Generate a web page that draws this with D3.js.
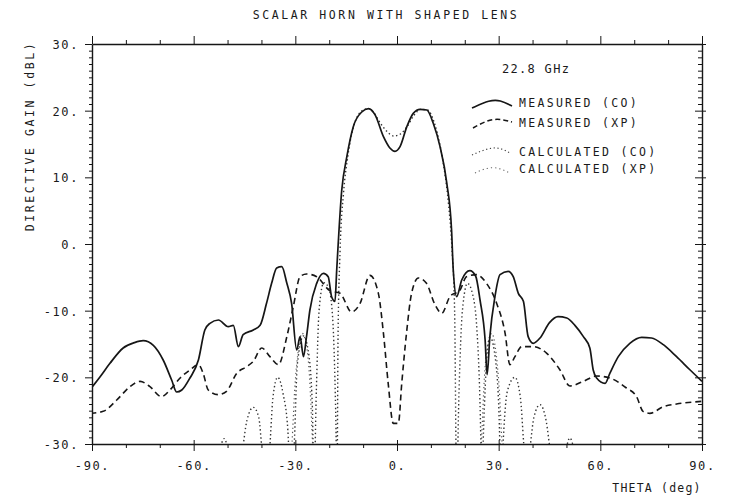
<!DOCTYPE html>
<html>
<head>
<meta charset="utf-8">
<script src="https://cdn.jsdelivr.net/npm/d3@7"></script>
<style>
  body { margin: 0; background: #fff; }
  svg { display: block; }
  text { font-family: "DejaVu Sans Mono", "Liberation Mono", monospace; fill: #1a1a1a; }
</style>
</head>
<body>
<svg id="chart" width="731" height="498"></svg>
<script>
// ---------------- data ----------------
const titleText = "SCALAR HORN WITH SHAPED LENS";
const yLabel = "DIRECTIVE GAIN (dBL)";
const xLabel = "THETA (deg)";
const freqLabel = "22.8 GHz";
const legendLabels = ["MEASURED (CO)", "MEASURED (XP)", "CALCULATED (CO)", "CALCULATED (XP)"];
const xMajorTicks = [-90, -60, -30, 0, 30, 60, 90];
const yMajorTicks = [-30, -20, -10, 0, 10, 20, 30];

// [theta (deg), gain (dBL)]
const measuredCO = [[-90.5,-21.8],[-87.6,-19.9],[-84.7,-17.9],[-80.8,-15.6],[-77.5,-14.8],[-74.9,-14.5],[-71.9,-15.2],[-69,-17.4],[-66.5,-20.4],[-65,-22.2],[-63.5,-21.9],[-61.1,-20.1],[-58.6,-17.4],[-56.7,-12.9],[-55.2,-11.9],[-52.7,-11.4],[-49.8,-12.4],[-48.3,-12.2],[-46.8,-15.4],[-45.4,-13.6],[-42.4,-12.9],[-40.4,-12.2],[-38.5,-8.9],[-37,-5.9],[-35.5,-3.6],[-34,-3.4],[-32.5,-5.9],[-31.1,-8.9],[-29.6,-15.9],[-28.6,-13.9],[-27.6,-16.9],[-26.7,-13.9],[-25.7,-9.9],[-23.7,-5.9],[-21.7,-4.4],[-20.3,-4.9],[-19.3,-7.9],[-18.3,-8.6],[-17.8,-4],[-16.3,8.1],[-14.8,13.1],[-12.9,17.6],[-10.4,19.8],[-8.4,20.3],[-6.5,19.4],[-4,16.1],[-2.1,14.4],[-0.6,13.9],[0.9,14.6],[2.9,17.6],[4.8,19.6],[6.8,20.2],[8.8,20.1],[10.7,18.1],[12.7,14.6],[14.7,9.1],[16.1,2.1],[16.6,-3.9],[17.6,-7.9],[19.1,-5.4],[21.5,-4],[23.2,-4.8],[24.5,-8.4],[26,-14.4],[26.6,-19.6],[27.4,-13.9],[28.9,-7.9],[30.4,-4.6],[32.8,-4.1],[34.3,-4.9],[35.8,-7.4],[37.3,-8.6],[38.7,-13.9],[40.2,-14.9],[42.2,-14.1],[45,-11.8],[47.5,-10.9],[50.1,-11.1],[52.5,-12.2],[55,-13.9],[56.9,-15.6],[57.9,-18.9],[58.9,-20.1],[61.4,-20.9],[62.8,-19.4],[65.3,-16.9],[68.7,-14.9],[72.2,-14],[75.1,-14.1],[78.6,-15.1],[82.5,-16.9],[86.5,-18.9],[90,-20.6]];

const measuredXP = [[-90.5,-25.4],[-86.7,-25.1],[-82.7,-23.4],[-78.8,-21.4],[-75.8,-20.6],[-72.9,-21.4],[-69.5,-22.9],[-67,-21.9],[-64,-20.1],[-61.1,-18.9],[-58.6,-18.1],[-57.2,-19.4],[-55.7,-21.9],[-52.7,-22.6],[-50.3,-22.1],[-47.3,-19.4],[-44.4,-18.4],[-42.4,-17.6],[-39.9,-15.6],[-37.5,-16.9],[-35,-18.1],[-32.5,-13.9],[-30.6,-9.4],[-28.6,-4.9],[-26.7,-4.5],[-23.7,-4.9],[-19.8,-7],[-16.8,-7.4],[-13.4,-10.2],[-10.9,-8.9],[-8,-4.7],[-5.5,-7.4],[-4,-13.4],[-2.6,-20.9],[-1.1,-26.9],[0.4,-26.9],[1.4,-20.9],[2.8,-13.4],[4.3,-7.4],[6.3,-5.1],[8.7,-5.9],[11.2,-9.1],[13.2,-10.4],[15.6,-7.9],[18.6,-6.9],[20.5,-4.9],[23.5,-4.6],[26.4,-5.9],[29.4,-8.9],[31.9,-13.4],[33.3,-18.1],[34.8,-16.9],[36.8,-15.4],[40.2,-15.4],[44.2,-16.4],[48.1,-18.9],[51,-21.3],[55,-20.6],[58.9,-19.8],[62.8,-20.1],[67.7,-21.6],[70.7,-22.9],[72.6,-25.1],[74.6,-25.4],[78.6,-24.4],[82.5,-24],[90,-23.6]];

const calculatedCO = [[-90,-36],[-54,-36],[-52.5,-31.5],[-51,-29.2],[-49.5,-31.5],[-47,-36],[-45.6,-31],[-44.3,-26.5],[-42.4,-24.5],[-40.8,-26],[-39.8,-31],[-38.6,-36],[-37.6,-31],[-36.6,-23],[-35.2,-20],[-33.6,-22.5],[-32.2,-28],[-31.4,-36],[-30.4,-31],[-29.4,-18],[-27.6,-13.8],[-26.2,-16],[-25,-24],[-24.5,-36],[-23.8,-22],[-23,-10],[-21.6,-5.8],[-20.2,-6.5],[-19,-11],[-18.1,-25],[-17.7,-36],[-17.4,-14],[-16.8,-1],[-15.8,7.5],[-14.5,13.2],[-13,17.3],[-11.5,19.3],[-10,20.1],[-8.5,20.3],[-7,19.8],[-5,18.2],[-3,16.9],[-1,16.2],[1,16.5],[3,17.6],[5,19.3],[7,20.2],[9,20.1],[11,18.2],[12.7,14.8],[14,11],[15.2,6],[16.2,-0.5],[17,-10],[17.6,-36],[18.3,-22],[19.3,-10],[20.8,-5.9],[22.3,-7.5],[23.6,-13],[24.6,-26],[25,-36],[25.6,-27],[26.5,-17],[27.5,-14],[28.7,-16],[30,-24],[30.8,-36],[31.4,-29],[32.6,-22],[34.8,-20],[36.4,-23],[37.4,-30],[38.3,-36],[39.4,-30],[40.4,-26],[42.2,-24.1],[44,-26.5],[45.2,-31],[46.5,-36],[49.5,-31.5],[51,-29.1],[52.5,-31.5],[54,-36],[90,-36]];

const calculatedXP = [[-90,-36],[-32,-36],[-31,-30],[-30.2,-22],[-29,-15.5],[-28,-13.4],[-26.8,-15],[-25.8,-20],[-24.9,-30],[-24.2,-36],[24.2,-36],[24.9,-30],[25.8,-20],[26.8,-15],[28,-13.4],[29,-15.5],[30.2,-22],[31,-30],[32,-36],[90,-36]];

// ---------------- layout ----------------
const svg = d3.select("#chart");
const x = d3.scaleLinear().domain([-90, 90]).range([92, 702]);
const y = d3.scaleLinear().domain([-30, 30]).range([444, 44]);
const ink = "#161616";

svg.append("defs").append("clipPath").attr("id", "plotClip")
  .append("rect").attr("x", x(-90)).attr("y", y(30))
  .attr("width", x(90) - x(-90)).attr("height", y(-30) - y(30));

// title
svg.append("text").attr("x", 386).attr("y", 19).attr("text-anchor", "middle")
  .attr("font-size", 11.5).attr("letter-spacing", 2.6).text(titleText);

// axes
const xMinor = d3.range(-90, 91, 10);
const yMinor = d3.range(-30, 31, 1);

const axBottom = svg.append("g").attr("transform", `translate(0,${y(-30)})`)
  .call(d3.axisBottom(x).tickValues(xMinor).tickSize(4).tickSizeOuter(0)
    .tickFormat(d => xMajorTicks.includes(d) ? d + "." : ""));
axBottom.selectAll(".tick line").filter(d => xMajorTicks.includes(d)).attr("y1", -4).attr("y2", 7);
axBottom.selectAll(".tick text").attr("y", 17).attr("font-size", 12).attr("letter-spacing", 1.6)
  .attr("font-family", '"DejaVu Sans Mono", monospace').attr("fill", ink);

const axTop = svg.append("g").attr("transform", `translate(0,${y(30)})`)
  .call(d3.axisTop(x).tickValues(xMinor).tickSize(4).tickSizeOuter(0).tickFormat(""));
axTop.selectAll(".tick line").filter(d => xMajorTicks.includes(d)).attr("y2", -8);

const axLeft = svg.append("g").attr("transform", `translate(${x(-90)},0)`)
  .call(d3.axisLeft(y).tickValues(yMinor).tickSize(3).tickSizeOuter(0)
    .tickFormat(d => yMajorTicks.includes(d) ? d + "." : ""));
axLeft.selectAll(".tick line").filter(d => yMajorTicks.includes(d)).attr("x2", -7);
axLeft.selectAll(".tick text").attr("x", -13).attr("dy", "0.38em").attr("font-size", 12).attr("letter-spacing", 1.6)
  .attr("font-family", '"DejaVu Sans Mono", monospace').attr("fill", ink);

const axRight = svg.append("g").attr("transform", `translate(${x(90)},0)`)
  .call(d3.axisLeft(y).tickValues(yMinor).tickSize(4).tickSizeOuter(0).tickFormat(""));
axRight.selectAll(".tick line").filter(d => yMajorTicks.includes(d)).attr("x1", 4).attr("x2", -7);

svg.selectAll(".domain").attr("stroke", ink).attr("stroke-width", 1.4);
svg.selectAll(".tick line").attr("stroke", ink).attr("stroke-width", 1);

// axis labels
svg.append("text").attr("transform", `translate(34,136) rotate(-90)`).attr("text-anchor", "middle")
  .attr("font-size", 11.5).attr("letter-spacing", 2.6).text(yLabel);
svg.append("text").attr("x", 657).attr("y", 492).attr("text-anchor", "middle")
  .attr("font-size", 11.5).attr("letter-spacing", 1.2).text(xLabel);

// curves
const line = d3.line().x(d => x(d[0])).y(d => y(d[1])).curve(d3.curveMonotoneX);
const plot = svg.append("g").attr("clip-path", "url(#plotClip)");

plot.append("path").datum(calculatedXP).attr("d", line).attr("fill", "none")
  .attr("stroke", "#555").attr("stroke-width", 1.2).attr("stroke-dasharray", "1.2,3");
plot.append("path").datum(calculatedCO).attr("d", line).attr("fill", "none")
  .attr("stroke", "#333").attr("stroke-width", 1.4).attr("stroke-dasharray", "1.4,2.6");
plot.append("path").datum(measuredXP).attr("d", line).attr("fill", "none")
  .attr("stroke", ink).attr("stroke-width", 1.6).attr("stroke-dasharray", "6,4");
plot.append("path").datum(measuredCO).attr("d", line).attr("fill", "none")
  .attr("stroke", ink).attr("stroke-width", 1.7);

// legend
svg.append("text").attr("x", 502).attr("y", 73).attr("font-size", 12).attr("letter-spacing", 1.3).text(freqLabel);
const legendStyles = [
  { dash: null, w: 1.6, c: ink, pts: [[472,108],[490,100],[500,100],[512,106]], ty: 107 },
  { dash: "5,3", w: 1.5, c: ink, pts: [[473,128],[493,117],[512,122]], ty: 127 },
  { dash: "1.2,2.6", w: 1.2, c: "#444", pts: [[472,155],[495,145],[510,153]], ty: 156 },
  { dash: "1.2,3", w: 1.1, c: "#666", pts: [[475,173],[493,165],[510,173]], ty: 173 }
];
const legLine = d3.line().curve(d3.curveBasis);
legendStyles.forEach((s, i) => {
  svg.append("path").attr("d", legLine(s.pts)).attr("fill", "none")
    .attr("stroke", s.c).attr("stroke-width", s.w).attr("stroke-dasharray", s.dash);
  svg.append("text").attr("x", 519).attr("y", s.ty).attr("font-size", 11.5)
    .attr("letter-spacing", 2.3).text(legendLabels[i]);
});
</script>
</body>
</html>
